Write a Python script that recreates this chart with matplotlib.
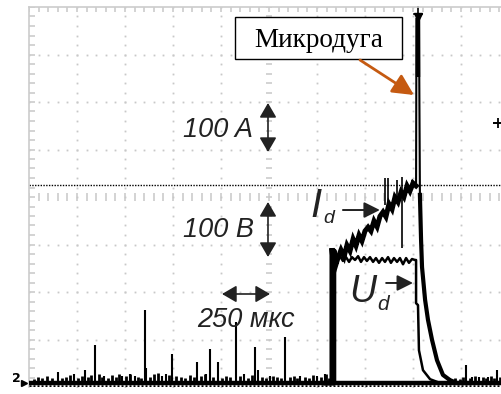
import numpy as np
import matplotlib.pyplot as plt

# scope settings: 250 us/div, 100 A/div and 100 V/div, 10 x 8 divisions
T_DIV, V_DIV = 250, 100
V_OFFSET = 8.4  # trace zero sits a little above the bottom edge

# baseline: tall noise spikes (us, A)
spike_t = [151, 234, 292, 344, 391, 484, 526, 552, 604, 609, 693, 714, 745, 875,
           922, 943, 984, 1078, 1120, 1177, 1193, 1255, 1333, 1411, 1500, 1542,
           2193, 2276, 2307, 2344, 2391, 2437]
spike_v = [23, 19, 27, 80, 15, 15, 19, 15, 154, 32, 15, 19, 61, 44,
           19, 72, 44, 128, 19, 76, 27, 15, 97, 15, 15, 19,
           10, 38, 13, 13, 13, 27]

# baseline: small noise bumps (us, A)
bump_t = [26, 47, 68, 94, 120, 172, 193, 214, 255, 276, 307, 323, 365, 380, 411,
          432, 453, 469, 505, 526, 568, 583, 630, 651, 672, 729, 766, 792, 812,
          839, 859, 896, 917, 958, 1005, 1026, 1047, 1099, 1141, 1161, 1214,
          1234, 1271, 1292, 1312, 1359, 1380, 1396, 1437, 1458, 1479, 1521, 1547,
          1563, 2182, 2219, 2245, 2260, 2297, 2323, 2365, 2380, 2406, 2422, 2453]
bump_v = [8, 13, 11, 15, 11, 11, 13, 17, 11, 15, 13, 17, 19, 13, 11,
          17, 13, 19, 15, 19, 13, 11, 13, 19, 21, 17, 15, 13, 11,
          17, 13, 15, 19, 13, 11, 15, 13, 15, 11, 17, 13,
          11, 15, 13, 11, 13, 15, 11, 13, 11, 17, 13, 19,
          11, 6, 11, 8, 13, 11, 15, 13, 11, 15, 11, 13]

# discharge current I_d before the micro-arc (us, A)
current_t = [1547, 1578, 1578, 1586, 1592, 1599,
             1609, 1625, 1641, 1656, 1672, 1688, 1703, 1719, 1734, 1750, 1766,
             1781, 1797, 1813, 1828, 1844, 1859, 1875, 1891, 1906, 1922, 1938,
             1953, 1969, 1984, 2000, 2016]
current_v = [0, 0, 284, 240, 268, 250,
             263, 280, 266, 290, 278, 303, 289, 311, 299, 320, 328,
             320, 341, 329, 351, 360, 350, 377, 366, 391, 381, 402,
             392, 415, 404, 421, 415]

# micro-arc spike (us, A)
arc_t = [2016, 2018, 2031, 2036]
arc_v = [415, 768, 768, 396]

# current decay after the spike (us, A)
decay_t = [2036, 2042, 2047, 2063, 2078, 2099, 2125, 2156, 2193, 2229, 2297]
decay_v = [396, 301, 244, 175, 133, 91, 48, 17, 6, 0, 0]

# short glitches on the current trace (us, A low, A high)
glitch_t = [1854, 1870, 1917, 1943, 1969, 1995]
glitch_lo = [375, 375, 385, 284, 400, 410]
glitch_hi = [432, 432, 427, 434, 423, 427]

# discharge voltage U_d (us, V)
voltage_t = [1568, 1594, 1594,
             1604, 1620, 1635, 1651, 1667, 1682, 1698, 1714, 1729, 1745, 1760,
             1776, 1792, 1807, 1823, 1839, 1854, 1870, 1885, 1901, 1917, 1932,
             1948, 1964, 1979, 1995, 2010,
             2016, 2016, 2026, 2031, 2052, 2089, 2141, 2245]
voltage_v = [0, 0, 280,
             263, 267, 257, 265, 255, 265, 259, 267, 255, 265, 257,
             265, 255, 263, 253, 263, 255, 265, 253, 263, 255, 263,
             250, 263, 253, 261, 259,
             259, 168, 164, 69, 27, 8, 0, 0]

fig = plt.figure(figsize=(5.01, 3.94), dpi=100)
W, H = 501, 394
rect = [29 / W, 7 / H, 480 / W, 380 / H]

# graticule
ax_g = fig.add_axes(rect, zorder=1)
ax_g.set_xlim(0, 10)
ax_g.set_ylim(0, 8)
ax_g.set_xticks([])
ax_g.set_yticks([])
for s in ['bottom', 'right']:
    ax_g.spines[s].set_visible(False)
for s in ['left', 'top']:
    ax_g.spines[s].set_color('#cccccc')
    ax_g.spines[s].set_linewidth(1.2)

gc = '#c8c8c8'
fine_y = np.arange(0, 8.01, 0.2)
fine_x = np.arange(0, 10.01, 0.2)
for k in range(1, 10):
    if k != 5:
        ax_g.plot(np.full_like(fine_y, k), fine_y, ls='none', marker='s', ms=1.3, mew=0, color=gc)
for m in range(1, 8):
    if m != 4:
        ax_g.plot(fine_x, np.full_like(fine_x, m), ls='none', marker='s', ms=1.3, mew=0, color=gc)
# centre axes with minor ticks
ax_g.hlines(fine_y, 4.94, 5.06, color=gc, lw=1.1)
ax_g.vlines(fine_x, 3.91, 4.09, color=gc, lw=1.1)
ax_g.hlines(fine_y, 0, 0.12, color=gc, lw=1.1)
ax_g.vlines(fine_x, 7.9, 8, color=gc, lw=1.1)
# trigger level line
ax_g.plot([0, 10], [4.253, 4.253], color='black', lw=1.0, ls=(0, (1, 1)))

# traces
ax = fig.add_axes(rect, zorder=2)
ax.set_facecolor('none')
ax.set_xlim(0, 10 * T_DIV)
ax.set_ylim(-V_OFFSET, 8 * V_DIV - V_OFFSET)
ax.axis('off')

ax.plot([0, 10 * T_DIV], [-1, -1], color='black', lw=3.2, solid_capstyle='butt')
ax.plot([0, 10 * T_DIV], [-5.5, -5.5], color='black', lw=1.8, ls=(0, (0.8, 0.8)))
ax.vlines(bump_t, 0, bump_v, color='black', lw=2.0)
ax.vlines(spike_t, 0, spike_v, color='black', lw=1.5)
ax.plot(voltage_t, voltage_v, color='black', lw=1.8)
ax.plot(current_t, current_v, color='black', lw=3.6, solid_joinstyle='miter')
ax.plot(arc_t, arc_v, color='black', lw=1.5)
ax.vlines(2024, 644, 768, color='black', lw=3.2)
ax.plot(decay_t, decay_v, color='black', lw=3.0)
ax.vlines(glitch_t, glitch_lo, glitch_hi, color='black', lw=1.2)

tr = ax_g.transData
tc = '#222222'
sans = ['Liberation Sans', 'DejaVu Sans']

# "Микродуга" box with orange arrow
ax.add_patch(plt.Rectangle((4.29, 6.905), 3.48, 0.884, transform=tr, fill=True,
                           facecolor='white', edgecolor='black', lw=1.0, zorder=5, clip_on=False))
ax.text(6.03, 7.15, 'Микродуга', transform=tr, ha='center', va='baseline',
        fontsize=19.5, family=['Liberation Serif', 'DejaVu Serif'], color='black', zorder=6)
ax.annotate('', xy=(8.021, 6.147), xytext=(6.896, 6.884), xycoords=tr, textcoords=tr,
            arrowprops=dict(arrowstyle='-|>,head_length=0.8,head_width=0.4', color='#C55A11',
                            lw=2, shrinkA=0, shrinkB=0, mutation_scale=16), zorder=6)

# scale labels
ax.text(3.208, 5.263, '100 A', transform=tr, fontsize=19.5, style='italic', family=sans, color=tc)
ax.text(3.208, 3.158, '100 B', transform=tr, fontsize=19.5, style='italic', family=sans, color=tc)
ax.text(3.5, 1.263, '250 мкс', transform=tr, fontsize=19.5, style='italic', family=sans, color=tc)

dbl = dict(arrowstyle='<|-|>,head_length=0.55,head_width=0.32', color=tc, lw=1.2,
           shrinkA=0, shrinkB=0, mutation_scale=16)
ax.annotate('', xy=(4.979, 5.979), xytext=(4.979, 4.947), xycoords=tr, textcoords=tr, arrowprops=dbl)
ax.annotate('', xy=(4.979, 3.895), xytext=(4.979, 2.737), xycoords=tr, textcoords=tr, arrowprops=dbl)
ax.annotate('', xy=(4.021, 1.958), xytext=(5.021, 1.958), xycoords=tr, textcoords=tr, arrowprops=dbl)

# trace labels
one = dict(arrowstyle='-|>,head_length=0.6,head_width=0.3', color=tc, lw=1.4,
           shrinkA=0, shrinkB=0, mutation_scale=16)
ax.text(5.98, 3.579, 'I', transform=tr, ha='center', fontsize=29, style='italic', family=sans, color=tc)
ax.text(6.25, 3.453, 'd', transform=tr, ha='center', fontsize=14, style='italic', family=sans, color=tc)
ax.annotate('', xy=(7.31, 3.726), xytext=(6.54, 3.726), xycoords=tr, textcoords=tr, arrowprops=one)
ax.text(6.958, 1.789, 'U', transform=tr, ha='center', fontsize=27, style='italic', family=sans, color=tc)
ax.text(7.375, 1.621, 'd', transform=tr, ha='center', fontsize=15, style='italic', family=sans, color=tc)
ax.annotate('', xy=(8.0, 2.19), xytext=(7.44, 2.19), xycoords=tr, textcoords=tr, arrowprops=one)

# scope markers
ax_g.plot([8.1, 8.1], [7.85, 8.0], color='black', lw=1.2, clip_on=False)
ax_g.plot([8.02, 8.18], [7.85, 7.85], color='black', lw=1.2, clip_on=False)
ax_g.plot(8.1, 7.79, marker='v', ms=6, color='black', clip_on=False)
ax_g.plot([9.68, 9.82], [5.56, 5.56], color='black', lw=1.2, clip_on=False)
ax_g.plot(9.77, 5.56, marker='+', ms=7, mew=1.3, color='black', clip_on=False)
fig.text(12 / W, (H - 382) / H, '2', fontsize=9, fontweight='bold', color='black')
ax_g.plot(-0.1, 0.09, marker='>', ms=4, color='black', clip_on=False)

fig.savefig('out.png', dpi=100)
